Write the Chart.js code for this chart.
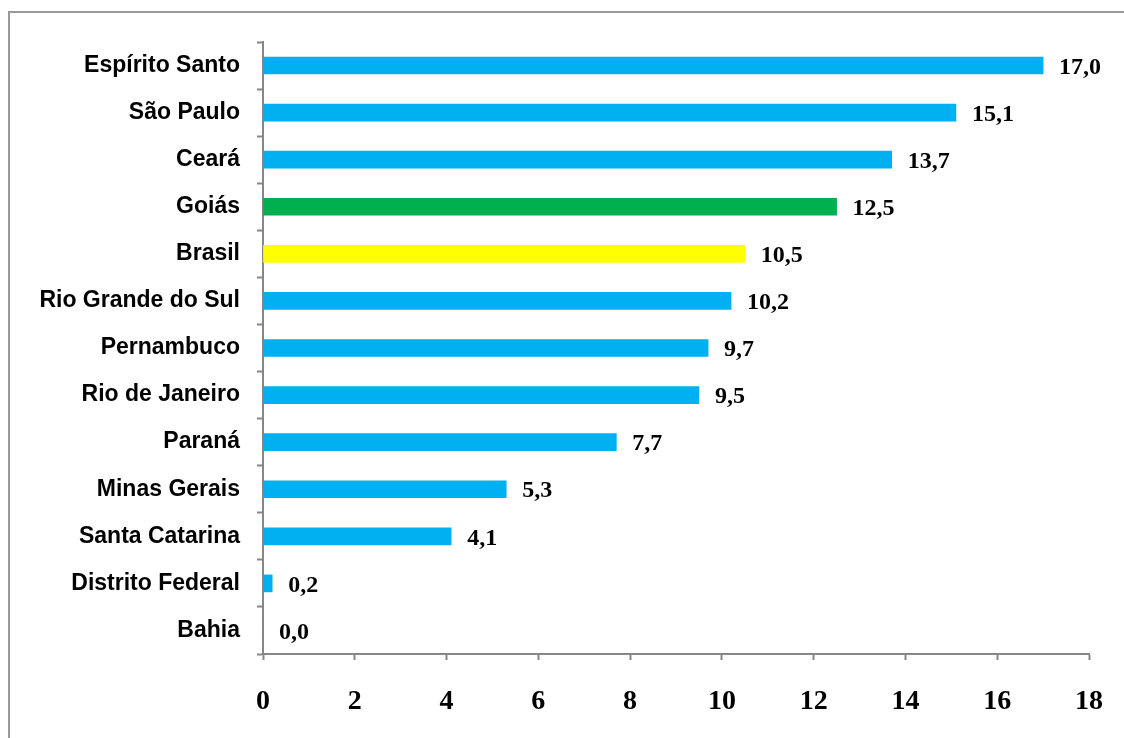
<!DOCTYPE html>
<html lang="pt">
<head>
    <meta charset="UTF-8">
    <title>Variação por estado</title>
    <script src="https://cdn.jsdelivr.net/npm/chart.js"></script>
    <style>
        body { margin: 0; background: #fff; }
        canvas { display: block; }
    </style>
</head>
<body>
    <canvas id="grafico" width="1124" height="738"></canvas>
    <script>
        // Dados
        const estados = ['Espírito Santo', 'São Paulo', 'Ceará', 'Goiás', 'Brasil', 'Rio Grande do Sul',
            'Pernambuco', 'Rio de Janeiro', 'Paraná', 'Minas Gerais', 'Santa Catarina', 'Distrito Federal', 'Bahia'];
        const valores = [17.0, 15.1, 13.7, 12.5, 10.5, 10.2, 9.7, 9.5, 7.7, 5.3, 4.1, 0.2, 0.0];
        const eixoX = { min: 0, max: 18, passo: 2 };

        const AZUL = '#00B0F0', VERDE = '#00B050', AMARELO = '#FFFF00';
        const cores = estados.map(e => e === 'Goiás' ? VERDE : (e === 'Brasil' ? AMARELO : AZUL));
        const CINZA = '#868686';

        // moldura (só esquerda e topo aparecem no recorte)
        const moldura = {
            id: 'moldura',
            beforeDraw(chart) {
                const ctx = chart.ctx;
                ctx.save();
                ctx.fillStyle = '#fff';
                ctx.fillRect(0, 0, chart.width, chart.height);
                ctx.strokeStyle = '#999';
                ctx.lineWidth = 2;
                ctx.beginPath();
                ctx.moveTo(9, chart.height);
                ctx.lineTo(9, 12);
                ctx.lineTo(chart.width, 12);
                ctx.stroke();
                ctx.restore();
            }
        };

        // rótulos de valor ao lado das barras
        const rotulos = {
            id: 'rotulos',
            afterDatasetsDraw(chart) {
                const ctx = chart.ctx;
                const meta = chart.getDatasetMeta(0);
                ctx.save();
                ctx.font = 'bold 24px "Liberation Serif", "Times New Roman", serif';
                ctx.fillStyle = '#000';
                ctx.textAlign = 'left';
                ctx.textBaseline = 'middle';
                meta.data.forEach((bar, i) => {
                    const txt = valores[i].toFixed(1).replace('.', ',');
                    ctx.fillText(txt, bar.x + 16, bar.y + 2);
                });
                ctx.restore();
            }
        };

        new Chart(document.getElementById('grafico').getContext('2d'), {
            type: 'bar',
            data: {
                labels: estados,
                datasets: [{
                    data: valores,
                    backgroundColor: cores,
                    borderWidth: 0,
                    barThickness: 17
                }]
            },
            options: {
                indexAxis: 'y',
                responsive: false,
                animation: false,
                layout: { padding: { top: 42, right: 35, left: 0, bottom: 0 } },
                plugins: {
                    legend: { display: false },
                    tooltip: { enabled: false }
                },
                scales: {
                    x: {
                        min: eixoX.min,
                        max: eixoX.max,
                        ticks: {
                            stepSize: eixoX.passo,
                            color: '#000',
                            padding: 25,
                            font: { family: '"Liberation Serif", "Times New Roman", serif', size: 28, weight: 'bold' }
                        },
                        grid: { drawOnChartArea: false, tickLength: 6, tickColor: CINZA, tickWidth: 2 },
                        border: { color: CINZA, width: 2 },
                        afterFit(s) { s.height = 84; s.paddingLeft = 0; s.paddingRight = 0; }
                    },
                    y: {
                        ticks: {
                            color: '#000',
                            padding: 17,
                            font: { family: '"Liberation Sans", Arial, sans-serif', size: 23, weight: 'bold' }
                        },
                        grid: { offset: true, drawOnChartArea: false, tickLength: 6, tickColor: CINZA, tickWidth: 2 },
                        border: { color: CINZA, width: 2 },
                        afterFit(s) { s.width = 263; s.paddingTop = 0; s.paddingBottom = 0; }
                    }
                }
            },
            plugins: [moldura, rotulos]
        });
    </script>
</body>
</html>
